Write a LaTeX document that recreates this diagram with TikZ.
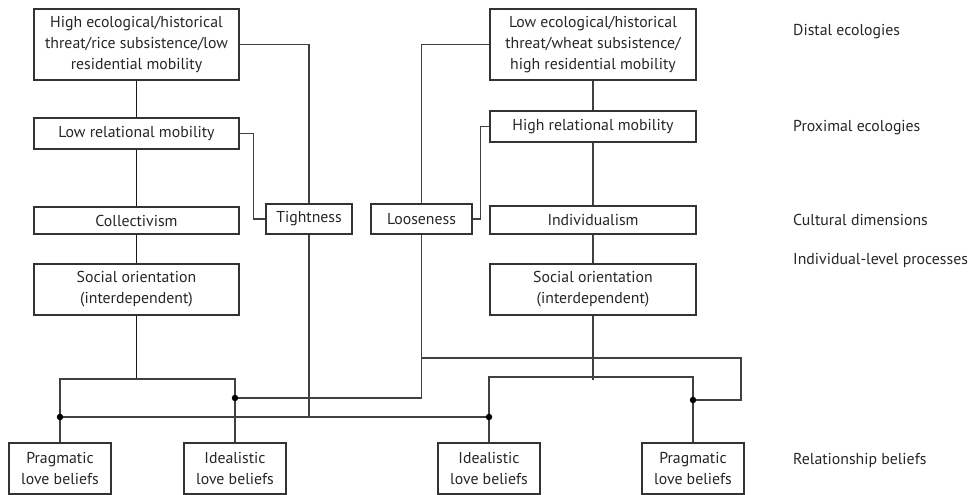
\documentclass[tikz,border=0pt]{standalone}
\usepackage{fontspec}
\setmainfont{PT Sans}
\begin{document}
\begin{tikzpicture}[x=1pt,y=-1pt,
  box/.style={draw=black!80,line width=1.3pt,inner sep=0pt,align=center,font=\fontsize{15.8}{21}\selectfont,text=black!85},
  conn/.style={draw=black!75,line width=1.3pt},
  trunk/.style={draw=black!90,line width=1.7pt},
  lbl/.style={anchor=west,inner sep=0pt,font=\fontsize{15.8}{19}\selectfont,text=black!85},
  dot/.style={circle,fill=black,inner sep=0pt,minimum size=6.5pt}]
\useasboundingbox (0,0) rectangle (972,495);
% left column
\node[box,minimum width=205pt,minimum height=71pt] (hi) at (136.5,44.5) {High ecological/historical\\threat/rice subsistence/low\\residential mobility};
\node[box,minimum width=205pt,minimum height=31pt] (lrm) at (136.5,133.5) {Low relational mobility};
\node[box,minimum width=205pt,minimum height=27pt] (col) at (136.5,220.5) {Collectivism};
\node[box,minimum width=205pt,minimum height=51pt] (soL) at (136.5,289.5) {Social orientation\\(interdependent)};
\node[box,minimum width=86pt,minimum height=30pt] (tight) at (309,219) {Tightness};
% right column
\node[box,minimum width=206pt,minimum height=71pt] (lo) at (593,44.5) {Low ecological/historical\\threat/wheat subsistence/\\high residential mobility};
\node[box,minimum width=206pt,minimum height=31pt] (hrm) at (593,126.5) {High relational mobility};
\node[box,minimum width=206pt,minimum height=28pt] (ind) at (593,220) {Individualism};
\node[box,minimum width=206pt,minimum height=51pt] (soR) at (593,289.5) {Social orientation\\(interdependent)};
\node[box,minimum width=101pt,minimum height=30pt] (loose) at (421.5,219) {Looseness};
% bottom
\node[box,minimum width=102pt,minimum height=51pt] (pL) at (60,468.5) {Pragmatic\\love beliefs};
\node[box,minimum width=102pt,minimum height=51pt] (iL) at (235,468.5) {Idealistic\\love beliefs};
\node[box,minimum width=102pt,minimum height=51pt] (iR) at (489,468.5) {Idealistic\\love beliefs};
\node[box,minimum width=102pt,minimum height=51pt] (pR) at (693,468.5) {Pragmatic\\love beliefs};
% labels
\node[lbl] (l1) at (793,32) {Distal ecologies};
\node[lbl] (l2) at (793,128) {Proximal ecologies};
\node[lbl] (l3) at (793,220) {Cultural dimensions};
\node[lbl] (l4) at (793,260) {Individual-level processes};
\node[lbl] (l5) at (793,460) {Relationship beliefs};
% coordinates
\coordinate (jL) at (136.5,379);
\coordinate (jR) at (593,377);
\coordinate (jRe) at (593,379.5);
\coordinate (dPL) at (60,417);
\coordinate (dIL) at (235,398);
\coordinate (dIR) at (489,417);
\coordinate (dPR) at (693,400);
\coordinate (tEnd) at (309,417);
\coordinate (lBr) at (421.5,358);
\coordinate (lCorner) at (741,358);
% left trunk
\draw[trunk] (hi.south) -- (lrm.north);
\draw[trunk] (lrm.south) -- (col.north);
\draw[trunk] (col.south) -- (soL.north);
\draw[trunk] (soL.south) -- (jL);
\draw[conn] (pL.north) |- (jL) -| (iL.north);
% right trunk
\draw[conn] (lo.south) -- (hrm.north);
\draw[conn] (hrm.south) -- (ind.north);
\draw[conn] (ind.south) -- (soR.north);
\draw[conn] (soR.south) -- (jRe);
\draw[conn] (iR.north) |- (jR) -| (pR.north);
% tightness
\draw[conn] (hi.east) -| (tight.north);
\draw[conn] (lrm.east) -- ++(14,0) |- (tight.west);
\draw[conn] (tight.south) -- (tEnd);
\draw[conn] (dPL) -- (dIR);
% looseness
\draw[conn] (lo.west) -| (loose.north);
\draw[conn] (hrm.west) -- ++(-9,0) |- (loose.east);
\draw[conn] (loose.south) |- (dIL);
\draw[conn] (lBr) -- (lCorner) |- (dPR);
% dots
\node[dot] at (dPL) {};
\node[dot] at (dIL) {};
\node[dot] at (dIR) {};
\node[dot] at (dPR) {};
\end{tikzpicture}
\end{document}
